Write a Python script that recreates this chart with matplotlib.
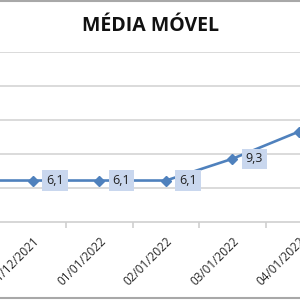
import matplotlib
matplotlib.use("Agg")
import matplotlib.pyplot as plt
from matplotlib.lines import Line2D

categories = ["30/12/2021", "31/12/2021", "01/01/2022", "02/01/2022", "03/01/2022", "04/01/2022"]
values = [6.1, 6.1, 6.1, 6.1, 9.3, 13.3]
labels = ["6,1", "6,1", "6,1", "6,1", "9,3", "13,3"]
title = "MÉDIA MÓVEL"

fig = plt.figure(figsize=(3, 3), dpi=100)
ax = fig.add_axes([0, 0.26, 1, 0.5667])
x = list(range(len(categories)))
ax.plot(x, values, color="#4f81bd", lw=1.9, marker="D", ms=5, zorder=3)
ax.set_yticks([5, 10, 15, 20, 25])
ax.yaxis.grid(True, color="#d4d4d4", lw=1.2)
ax.tick_params(axis="y", left=False, labelleft=False)
for s in ["left", "right", "top"]:
    ax.spines[s].set_visible(False)
ax.spines["bottom"].set_color("#cfcfcf")
ax.spines["bottom"].set_linewidth(1.2)
ax.set_xticks([i + 0.5 for i in range(len(categories))])
ax.set_xticklabels([])
ax.tick_params(axis="x", length=4, color="#cfcfcf", width=1.2)
ax.set_xticks(x, minor=True)
ax.set_xticklabels(categories, minor=True, rotation=45, ha="right", va="top",
                   rotation_mode="anchor", fontsize=8.5, color="#262626", family="Open Sans")
ax.tick_params(axis="x", which="minor", length=0, pad=9)
ax.set_axisbelow(True)
ax.set_xlim(0.504, 5.015)
ax.set_ylim(0, 25)
for xi, v, lab in zip(x, values, labels):
    if xi == 5:
        continue
    ax.annotate(lab, (xi, v), xytext=(9.5, 0), textcoords="offset points",
                ha="left", va="center", fontsize=9, color="#202020", family="Open Sans",
                bbox=dict(boxstyle="square,pad=0.3", fc="#c9d7ee", ec="none"), zorder=4)

fig.text(0.5, 0.913, title, ha="center", va="center", fontsize=14,
         fontweight="bold", family="Open Sans", color="#111111")
fig.add_artist(Line2D([0, 1], [0.997, 0.997], color="#a8a8a8", lw=1.5))
fig.add_artist(Line2D([0, 1], [0.008, 0.008], color="#a8a8a8", lw=1.5))
fig.savefig("out.png", dpi=100)
